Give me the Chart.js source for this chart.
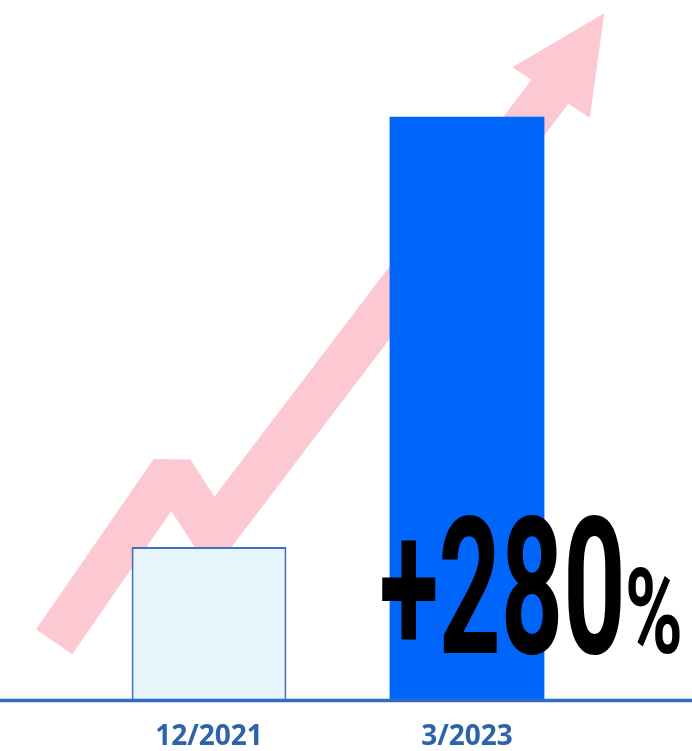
<!DOCTYPE html>
<html>
<head>
<meta charset="utf-8">
<script src="https://cdn.jsdelivr.net/npm/chart.js@4.4.1/dist/chart.umd.min.js"></script>
<style>
  html, body { margin: 0; padding: 0; background: #ffffff; }
  #wrap { width: 692px; height: 751px; position: relative; }
</style>
</head>
<body>
<div id="wrap"><canvas id="c"></canvas></div>
<script>
// ---- data ----
const categories = ['12/2021', '3/2023'];
const values = [100, 383];
const changeText = '+280';
const changeSuffix = '%';
const yTicks = [0, 400];

// ---- styles ----
const barFills = ['#e6f6fc', '#0066fb'];
const barBorders = ['#3e6fc2', '#0066fb'];
const axisBlue = '#2f6cc0';
const labelBlue = '#2d63a8';
const arrowPink = '#fcc8d2';

// decorative trend arrow, as fractions of the chart area
const arrowPath = [[-0.05, 0.906], [0.178, 0.626], [0.258, 0.730], [0.928, -0.018]];
const arrowHead = [[1.016, -0.128], [0.838, -0.039], [0.988, 0.044]];

const bgPlugin = {
  id: 'decor',
  beforeDatasetsDraw(chart) {
    const {ctx, chartArea: a} = chart;
    const W = a.right - a.left, H = a.bottom - a.top;
    const P = p => [a.left + p[0] * W, a.top + p[1] * H];
    ctx.save();
    ctx.strokeStyle = arrowPink;
    ctx.fillStyle = arrowPink;
    ctx.lineWidth = 44;
    ctx.lineJoin = 'bevel';
    ctx.lineCap = 'butt';
    ctx.beginPath();
    arrowPath.forEach((p, i) => { const q = P(p); i ? ctx.lineTo(q[0], q[1]) : ctx.moveTo(q[0], q[1]); });
    ctx.stroke();
    ctx.beginPath();
    arrowHead.forEach((p, i) => { const q = P(p); i ? ctx.lineTo(q[0], q[1]) : ctx.moveTo(q[0], q[1]); });
    ctx.closePath();
    ctx.fill();
    ctx.restore();
  },
  afterDatasetsDraw(chart) {
    const {ctx, scales} = chart;
    const y0 = scales.y.getPixelForValue(0);
    ctx.save();
    // baseline across the full width
    ctx.strokeStyle = axisBlue;
    ctx.lineWidth = 3.5;
    ctx.beginPath();
    ctx.moveTo(0, y0 + 1.5);
    ctx.lineTo(chart.width, y0 + 1.5);
    ctx.stroke();

    // big change label
    const fitText = (txt, x0, x1, yTop, yBase) => {
      const test = 100;
      ctx.font = 'bold ' + test + 'px Roboto, "Liberation Sans", sans-serif';
      let m = ctx.measureText(txt);
      const size = test * (yBase - yTop) / m.actualBoundingBoxAscent;
      ctx.font = 'bold ' + size + 'px Roboto, "Liberation Sans", sans-serif';
      m = ctx.measureText(txt);
      const w = m.actualBoundingBoxLeft + m.actualBoundingBoxRight;
      const sx = (x1 - x0) / w;
      ctx.save();
      ctx.translate(x0, yBase);
      ctx.scale(sx, 1);
      ctx.fillStyle = '#000000';
      ctx.textBaseline = 'alphabetic';
      ctx.textAlign = 'left';
      ctx.fillText(txt, m.actualBoundingBoxLeft, 0);
      ctx.restore();
    };
    fitText(changeText, 382, 621, 513, 653);
    fitText(changeSuffix, 628, 680, 568, 653);
    ctx.restore();
  }
};

new Chart(document.getElementById('c'), {
  type: 'bar',
  data: {
    labels: categories,
    datasets: [{
      data: values,
      backgroundColor: barFills,
      borderColor: barBorders,
      borderWidth: [2, 0],
      borderSkipped: 'start',
      categoryPercentage: 1,
      barPercentage: 0.6
    }]
  },
  options: {
    responsive: true,
    maintainAspectRatio: false,
    animation: false,
    devicePixelRatio: 1,
    layout: { padding: { top: 91, left: 80, right: 96, bottom: 0 } },
    plugins: { legend: { display: false }, tooltip: { enabled: false }, title: { display: false } },
    scales: {
      x: {
        grid: { display: false },
        border: { display: false },
        ticks: {
          color: labelBlue,
          padding: 13,
          font: { family: '"Open Sans", "Liberation Sans", sans-serif', size: 28, weight: 'bold' }
        },
        afterFit(scale) { scale.height = 52; }
      },
      y: {
        display: false,
        min: yTicks[0],
        max: yTicks[1]
      }
    }
  },
  plugins: [bgPlugin]
});
</script>
</body>
</html>
